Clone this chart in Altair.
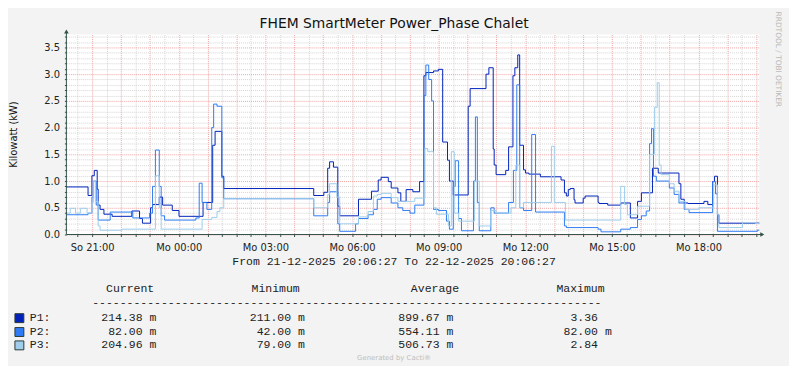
import altair as alt
import pandas as pd

# ---------------- data ----------------
# minutes since graph start (21-12-2025 20:06:27) where the value changes, and kW
P1_MIN = [0,45,53,58,64,66,70,78,95,136,152,158,175,179,193,200,220,234,284,304,
          309,323,327,514,535,543,547,555,564,568,607,634,648,654,669,675,689,695,706,720,
          734,743,747,763,773,782,792,796,804,835,839,872,878,887,889,893,913,919,928,932,
          938,942,950,954,961,985,1028,1035,1039,1043,1047,1055,1057,1074,1078,1105,1107,1125,1152,1172,
          1187,1195,1218,1230,1273,1277,1284,1292,1325,1333,1343,1347,1353,1356,1436]
P1_KW = [0.89,0.73,1.1,1.2,0.85,0.55,0.47,0.38,0.34,0.44,0.30,0.212,0.50,0.56,0.70,0.55,0.45,0.34,0.60,1.67,
         1.93,1.09,0.86,0.73,0.79,1.24,1.36,1.26,0.53,0.35,0.66,0.81,1.02,1.07,0.99,0.87,0.78,0.62,0.84,0.80,
         0.99,2.97,3.03,3.06,3.09,1.73,1.39,1.0,0.74,2.4,2.73,3.0,3.12,1.6,1.3,1.12,1.2,1.64,2.97,3.12,
         3.36,1.67,1.21,1.15,1.13,1.08,1.02,0.78,0.72,0.84,0.86,0.65,0.59,0.68,0.72,0.60,0.58,0.55,0.59,0.31,
         0.62,0.78,1.24,1.15,0.95,0.66,0.59,0.58,0.62,0.56,0.99,1.09,0.37,0.212,0.214]

P2_MIN = [0,45,53,56,62,66,91,138,173,179,185,193,197,204,269,276,282,292,302,306,
          313,323,327,514,543,547,564,568,601,607,627,638,646,654,675,689,699,714,724,743,
          747,753,759,763,773,790,796,804,808,815,821,846,850,854,858,882,889,919,929,936,
          942,950,967,975,1035,1039,1105,1111,1152,1172,1187,1195,1205,1212,1216,1220,1226,1253,1263,1273,
          1284,1294,1343,1349,1353,1436]
P2_KW = [0.37,0.40,0.7,1.0,0.55,0.27,0.42,0.31,0.40,0.9,1.58,0.9,0.35,0.27,0.31,0.96,0.6,0.47,2.0,2.44,
         2.40,1.06,0.67,0.35,0.6,0.80,0.2,0.06,0.2,0.30,0.37,0.47,0.66,0.69,0.59,0.5,0.45,0.40,0.55,2.6,
         3.17,2.9,2.5,0.47,0.45,0.25,0.1,0.9,1.38,0.3,0.07,1.0,2.2,0.6,0.07,0.5,0.4,0.6,1.2,2.8,
         0.5,0.45,1.87,0.42,0.16,0.13,0.1,0.05,0.1,0.13,0.28,0.35,0.44,1.70,1.98,1.09,1.0,0.87,0.75,0.59,
         0.47,0.41,0.99,0.76,0.06,0.082]

P3_MIN = [0,8,19,29,43,53,56,60,66,70,115,185,193,197,282,302,313,319,327,514,
          543,547,562,568,607,627,638,646,654,675,689,724,745,751,763,769,794,800,806,815,
          848,858,882,893,924,934,942,950,1008,1014,1037,1152,1160,1166,1187,1212,1222,1228,1232,1236,
          1253,1263,1273,1286,1314,1345,1353,1356,1405,1432]
P3_KW = [0.40,0.49,0.40,0.49,0.40,0.6,1.0,0.62,0.16,0.08,0.10,1.1,0.5,0.1,0.28,0.32,0.43,0.5,0.67,0.5,
         0.75,0.95,0.7,0.2,0.33,0.43,0.72,0.75,0.77,0.69,0.62,0.68,1.61,1.55,0.5,0.38,0.16,1.55,0.4,0.25,
         1.0,0.16,0.45,0.4,0.5,1.3,0.5,0.6,1.65,0.6,0.27,0.9,0.56,0.37,0.53,1.5,2.38,2.84,1.3,1.12,
         0.95,0.81,0.62,0.47,0.5,0.93,0.37,0.13,0.22,0.205]

SERIES = ["P1", "P2", "P3"]
COLORS = ["#0022BB", "#2E7BF5", "#9FCDEB"]
CURRENT = ["214.38 m", "82.00 m", "204.96 m"]
MINIMUM = ["211.00 m", "42.00 m", "79.00 m"]
AVERAGE = ["899.67 m", "554.11 m", "506.73 m"]
MAXIMUM = ["3.36", "82.00 m", "2.84"]
HEADERS = ["Current", "Minimum", "Average", "Maximum"]
TITLE = "FHEM SmartMeter Power_Phase Chalet"
Y_TITLE = "Kilowatt (kW)"
PERIOD = "From 21-12-2025 20:06:27 To 22-12-2025 20:06:27"
WATERMARK = "RRDTOOL / TOBI OETIKER"
FOOTER = "Generated by Cacti\u00ae"

START = pd.Timestamp("2025-12-21 20:06:27", tz="UTC")
TOTAL_MIN = 24 * 60


def ms(ts):
    return int(ts.value // 10**6)


rows = []
for name, mins, kws in zip(SERIES, [P1_MIN, P2_MIN, P3_MIN], [P1_KW, P2_KW, P3_KW]):
    for m, v in zip(mins, kws):
        rows.append({"series": name, "t": ms(START + pd.Timedelta(minutes=m)), "kw": v})
    rows.append({"series": name, "t": ms(START + pd.Timedelta(minutes=TOTAL_MIN)), "kw": kws[-1]})
df = pd.DataFrame(rows)

x_dom = [ms(START), ms(START + pd.Timedelta(minutes=TOTAL_MIN))]
first_tick = pd.Timestamp("2025-12-21 20:30:00", tz="UTC")
x_ticks = [ms(first_tick + pd.Timedelta(minutes=30 * i)) for i in range(48)]
y_ticks = [round(0.1 * i, 1) for i in range(38)]

W, H = 700, 202
Y_MAX = 3.7407
AXIS_COL = "#33524A"
MAJOR = "#F2A3A3"
MINOR = "#D5D5D5"

x_major = "utcminutes(datum.value)==0"
x_label = ("utcminutes(datum.value)==0 && utchours(datum.value)%3==0 ? "
           "(utcday(datum.value)==0 ? 'So ' : 'Mo ') + utcFormat(datum.value, '%H:%M') : ''")
y_major = "abs(datum.value*2 - round(datum.value*2)) < 0.001"
y_label = y_major + " ? format(datum.value, '.1f') : ''"

lines = alt.Chart(df).mark_line(interpolate="step-after", strokeWidth=1).encode(
    x=alt.X("t:T", scale=alt.Scale(type="utc", domain=x_dom),
            axis=alt.Axis(values=x_ticks, labelExpr=x_label, title=None, domain=False,
                          grid=True, gridDash=[1, 1],
                          gridColor={"condition": {"test": x_major, "value": MAJOR}, "value": MINOR},
                          tickSize=2, tickColor=AXIS_COL, labelOverlap=False, labelFlush=False,
                          labelFont="DejaVu Sans", labelFontSize=10, labelColor="#222",
                          labelPadding=6)),
    y=alt.Y("kw:Q", scale=alt.Scale(domain=[0, Y_MAX], nice=False, zero=True),
            axis=alt.Axis(values=y_ticks, labelExpr=y_label, title=None, domain=False,
                          grid=True, gridDash=[1, 1],
                          gridColor={"condition": {"test": y_major, "value": MAJOR}, "value": MINOR},
                          tickSize=2, tickColor=AXIS_COL, labelOverlap=False, labelFlush=False,
                          labelFont="DejaVu Sans", labelFontSize=10, labelColor="#222",
                          labelPadding=5)),
    color=alt.Color("series:N", scale=alt.Scale(domain=SERIES, range=COLORS), legend=None),
)

one = alt.Data(values=[{"k": 0}])

y_line = alt.Chart(one).mark_rule(color=AXIS_COL, strokeWidth=1).encode(
    x=alt.value(0), y=alt.value(-3), y2=alt.value(H))
x_line = alt.Chart(one).mark_rule(color=AXIS_COL, strokeWidth=1).encode(
    x=alt.value(0), x2=alt.value(W + 3), y=alt.value(H))
y_arrow = alt.Chart(one).mark_point(shape="triangle-up", filled=True, size=22, color=AXIS_COL, opacity=1).encode(
    x=alt.value(0), y=alt.value(-3))
x_arrow = alt.Chart(one).mark_point(shape="triangle-right", filled=True, size=22, color=AXIS_COL, opacity=1).encode(
    x=alt.value(W + 3), y=alt.value(H))


def txt(s, x, y, size=10, font="DejaVu Sans", color="#111", align="left", angle=0, baseline="middle"):
    return alt.Chart(alt.Data(values=[{"s": s}])).mark_text(
        align=align, baseline=baseline, font=font, fontSize=size, color=color, angle=angle
    ).encode(x=alt.value(x), y=alt.value(y), text="s:N")


MONO = "Liberation Mono"
MS = 11.6
layers = [lines, y_line, x_line, y_arrow, x_arrow,
          txt(TITLE, 331, -11, size=14, color="#111", align="center"),
          txt(Y_TITLE, -53, 101, size=10, align="center", angle=270),
          txt(WATERMARK, 719, 25, size=7.5, color="#B8B8B8", align="center", angle=90),
          txt(PERIOD, 331, 230, size=MS, font=MONO, color="#222", align="center"),
          txt("-" * 74, 26, 271, size=MS, font=MONO, color="#222"),
          txt(FOOTER, 331, 327, size=7, color="#BDBDBD", align="center")]

header_x = [40, 187, 348, 495]
for h, hx in zip(HEADERS, header_x):
    layers.append(txt(h, hx, 257.5, size=MS, font=MONO, color="#222"))

row_y = [286.5, 300.5, 314]
num_right = [77, 227, 377, 537]
unit_left = [84, 234, 384, 544]
for i, (name, col) in enumerate(zip(SERIES, COLORS)):
    ry = row_y[i]
    layers.append(alt.Chart(one).mark_rect(color=col, stroke="#2A3A35", strokeWidth=1).encode(
        x=alt.value(-52), x2=alt.value(-43), y=alt.value(ry - 4.5), y2=alt.value(ry + 4.5)))
    layers.append(txt(name + ":", -37, ry, size=MS, font=MONO, color="#222"))
    for c, vals in enumerate([CURRENT, MINIMUM, AVERAGE, MAXIMUM]):
        parts = vals[i].split(" ")
        layers.append(txt(parts[0], num_right[c], ry, size=MS, font=MONO, color="#222", align="right"))
        if len(parts) > 1:
            layers.append(txt(parts[1], unit_left[c], ry, size=MS, font=MONO, color="#222"))

chart = alt.layer(*layers).properties(
    width=W, height=H, autosize="none",
    padding={"left": 59, "top": 25, "right": 30, "bottom": 131},
).configure(background="#F3F3F3").configure_view(fill="#FFFFFF", strokeWidth=0)

chart.save("out.html", embed_options={"renderer": "svg", "actions": False})
